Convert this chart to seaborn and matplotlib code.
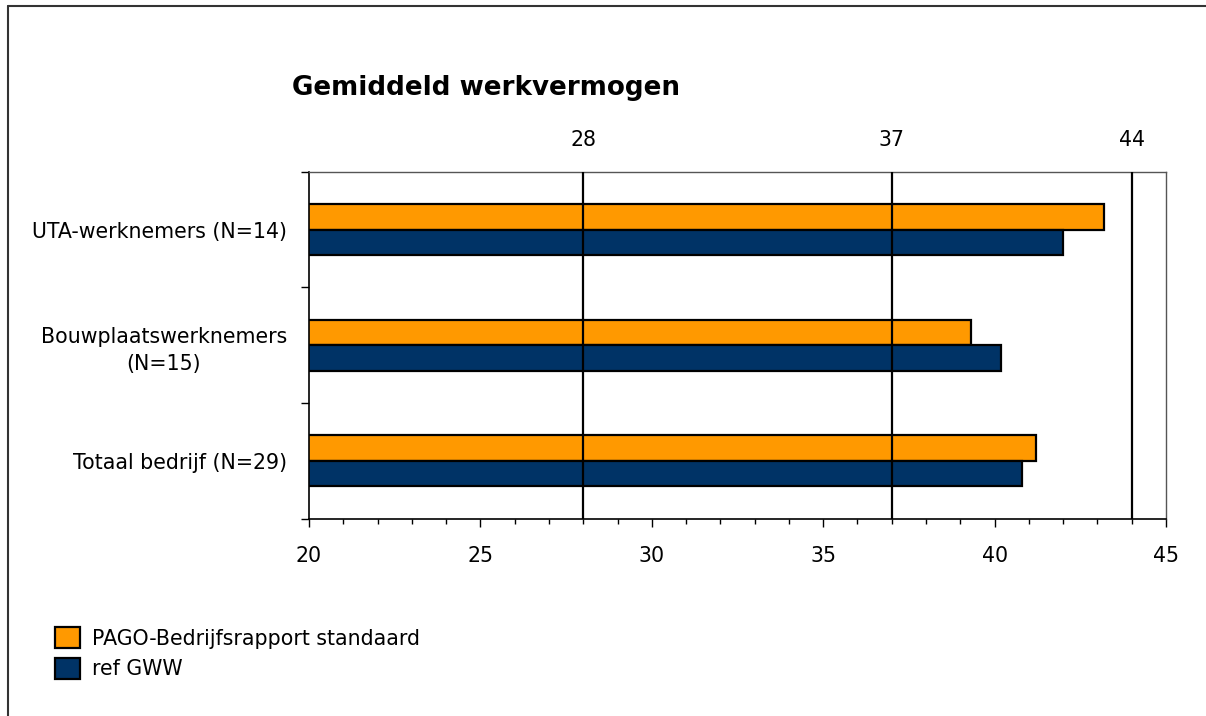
import matplotlib
matplotlib.use("Agg")
import matplotlib.pyplot as plt
import seaborn as sns
import pandas as pd
from matplotlib.patches import Patch
from matplotlib.lines import Line2D
from matplotlib.ticker import MultipleLocator, FixedLocator

categories = ["UTA-werknemers (N=14)", "Bouwplaatswerknemers\n(N=15)", "Totaal bedrijf (N=29)"]
series_names = ["PAGO-Bedrijfsrapport standaard", "ref GWW"]
pago_values = [43.2, 39.3, 41.2]
gww_values = [42.0, 40.2, 40.8]
ref_lines = [28, 37, 44]
x_ticks = [20, 25, 30, 35, 40, 45]
colors = ["#FF9900", "#003366"]

df = pd.DataFrame({
    "categorie": categories * 2,
    "reeks": [series_names[0]] * 3 + [series_names[1]] * 3,
    "waarde": pago_values + gww_values,
})

sns.set_theme(style="white")
plt.rcParams["font.family"] = ["DejaVu Sans"]
plt.rcParams["text.color"] = "black"
plt.rcParams["xtick.color"] = "black"
plt.rcParams["ytick.color"] = "black"
FS = 14.8

fig = plt.figure(figsize=(12.06, 7.16), dpi=100)
ax = fig.add_axes([309 / 1206, 1 - 518.5 / 716, (1166 - 309) / 1206, (518.5 - 172) / 716])

sns.barplot(data=df, y="categorie", x="waarde", hue="reeks", orient="h",
            palette=dict(zip(series_names, colors)), saturation=1,
            width=0.44, edgecolor="black", linewidth=1.6, legend=False, ax=ax, zorder=2)

ax.set_xlim(20, 45)
ax.set_ylim(2.5, -0.5)
ax.set_xlabel("")
ax.set_ylabel("")

for v in ref_lines:
    ax.axvline(v, color="black", linewidth=1.6, zorder=5)

# x ticks
ax.xaxis.set_major_locator(FixedLocator(x_ticks))
ax.xaxis.set_minor_locator(MultipleLocator(1))
ax.tick_params(axis="x", which="major", direction="out", length=5.5, width=1, color="black",
               bottom=True, pad=14, labelsize=FS, labelcolor="black")
ax.tick_params(axis="x", which="minor", direction="out", length=3.5, width=1, color="black", bottom=True)

# y ticks: labels at centers, tick marks at boundaries
ax.yaxis.set_minor_locator(FixedLocator([-0.5, 0.5, 1.5, 2.5]))
ax.tick_params(axis="y", which="major", length=0, pad=16, labelsize=FS, labelcolor="black")
ax.tick_params(axis="y", which="minor", direction="out", length=6, width=1, color="black", left=True)
for lbl in ax.get_yticklabels():
    lbl.set_multialignment("center")
    lbl.set_linespacing(1.4)

for s in ["left", "bottom"]:
    ax.spines[s].set_color("black")
    ax.spines[s].set_linewidth(1.2)
for s in ["top", "right"]:
    ax.spines[s].set_color("#555555")
    ax.spines[s].set_linewidth(1.0)
    ax.spines[s].set_visible(True)

sec = ax.secondary_xaxis("top")
sec.set_xticks(ref_lines)
sec.tick_params(length=0, pad=16, labelsize=FS, labelcolor="black")
sec.spines["top"].set_visible(False)

fig.text(292 / 1206, 1 - 88 / 716, "Gemiddeld werkvermogen", fontsize=18.8, fontweight="bold",
         ha="left", va="center", color="black")

handles = [Patch(facecolor=c, edgecolor="black", linewidth=1.6, label=n) for c, n in zip(colors, series_names)]
fig.legend(handles=handles, loc="upper left", bbox_to_anchor=(47 / 1206, 1 - 619 / 716),
           frameon=False, fontsize=FS, handlelength=1.2, handleheight=1.2,
           handletextpad=0.6, labelspacing=0.45, borderaxespad=0, labelcolor="black")

# outer chart-area border (top and left visible)
fig.add_artist(Line2D([7.5 / 1206, 1], [1 - 5.5 / 716, 1 - 5.5 / 716], color="#333333", linewidth=1.5,
                      transform=fig.transFigure))
fig.add_artist(Line2D([7.5 / 1206, 7.5 / 1206], [0, 1 - 5.5 / 716], color="#333333", linewidth=1.5,
                      transform=fig.transFigure))

fig.savefig("out.png", dpi=100)
